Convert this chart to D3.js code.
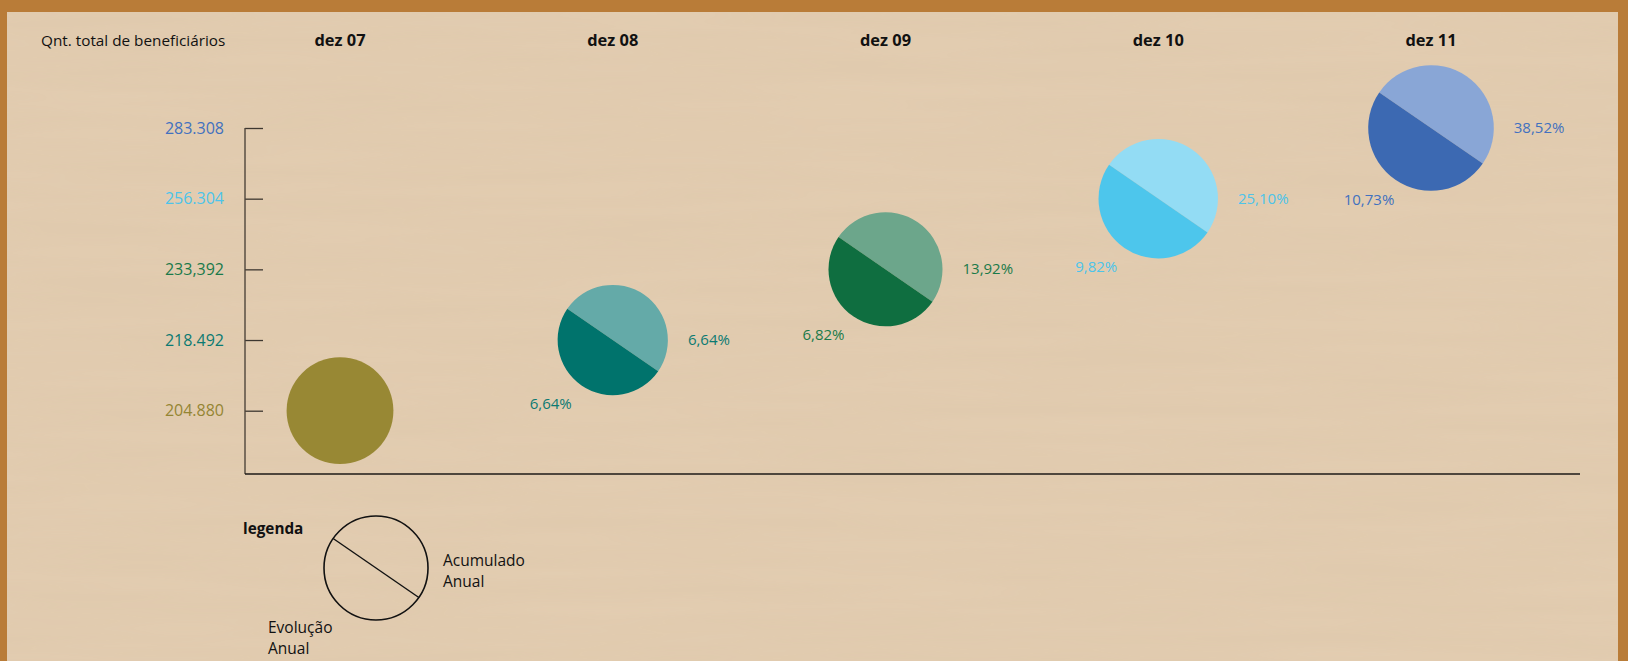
<!DOCTYPE html>
<html>
<head>
<meta charset="utf-8">
<script src="https://cdn.jsdelivr.net/npm/d3@7"></script>
<style>
  html, body { margin: 0; padding: 0; background: #b97c38; }
  svg { display: block; }
  text { font-family: "Open Sans", sans-serif; }
</style>
</head>
<body>
<svg width="1628" height="661"></svg>
<script>
// periods on the x axis
let periods = ["dez 07", "dez 08", "dez 09", "dez 10", "dez 11"];
// total beneficiaries at each period (also the y tick labels)
let totals = [204880, 218492, 233392, 256304, 283308];
let totalLabels = ["204.880", "218.492", "233,392", "256.304", "283.308"];
// accumulated growth (right label) and yearly growth (left label)
let accumulated = [null, "6,64%", "13,92%", "25,10%", "38,52%"];
let yearly = [null, "6,64%", "6,82%", "9,82%", "10,73%"];
// colours: dark half, light half, text
let darkColors = ["#988834", "#00736c", "#0f6e40", "#4dc6ec", "#3c69b2"];
let lightColors = ["#988834", "#64aaa8", "#6ca68b", "#93dcf4", "#89a6d6"];
let textColors = ["#948533", "#0b7a72", "#1a7a4a", "#4cc4ea", "#4271bf"];

let svg = d3.select("svg");
let width = +svg.attr("width");
let height = +svg.attr("height");

// faint paper grain
let defs = svg.append("defs");
let grain = defs.append("filter").attr("id", "grain").attr("x", 0).attr("y", 0).attr("width", 1).attr("height", 1);
grain.append("feTurbulence")
    .attr("type", "fractalNoise")
    .attr("baseFrequency", "0.004 0.06")
    .attr("numOctaves", 2)
    .attr("seed", 3);
grain.append("feColorMatrix")
    .attr("values", "0 0 0 0 0.55  0 0 0 0 0.42  0 0 0 0 0.28  0 0 0 0.12 0");
grain.append("feComposite").attr("in2", "SourceGraphic").attr("operator", "in");

// paper panel
svg.append("rect")
    .attr("x", 7).attr("y", 12)
    .attr("width", 1611).attr("height", height)
    .attr("fill", "#e3cdb1");
svg.append("rect")
    .attr("x", 7).attr("y", 12)
    .attr("width", 1611).attr("height", height)
    .attr("fill", "#e3cdb1")
    .attr("filter", "url(#grain)");

let x = d3.scalePoint().domain(periods).range([340, 1431]);
let y = d3.scalePoint().domain(totals).range([410.7, 128]);
let r = d3.scaleSqrt().domain([0, d3.max(totals)]).range([0, 62.8]);

let axisX = 245, axisBottom = 474;

// title
svg.append("text")
    .attr("x", 41).attr("y", 46)
    .attr("font-size", 15.3)
    .attr("fill", "#111")
    .text("Qnt. total de beneficiários");

// period headers
svg.append("g")
    .selectAll("text")
    .data(periods)
    .enter()
    .append("text")
    .attr("x", (d) => x(d))
    .attr("y", 46)
    .attr("text-anchor", "middle")
    .attr("font-size", 16.4)
    .attr("font-weight", "bold")
    .attr("fill", "#111")
    .text((d) => d);

// y axis with the totals as ticks
let yAxis = d3.axisRight(y).tickSize(18).tickFormat("");
let gy = svg.append("g")
    .attr("transform", `translate(${axisX},0)`)
    .call(yAxis);
gy.select(".domain").remove();
gy.selectAll(".tick line").attr("stroke", "#3d3730").attr("stroke-width", 1.3);

svg.append("path")
    .attr("d", `M${axisX},${y(totals[totals.length - 1])}V${axisBottom}`)
    .attr("fill", "none")
    .attr("stroke", "#4f463c")
    .attr("stroke-width", 1.4);
svg.append("path")
    .attr("d", `M${axisX},${axisBottom}H1580`)
    .attr("fill", "none")
    .attr("stroke", "#1d1a17")
    .attr("stroke-width", 1.6);

svg.append("g")
    .selectAll("text")
    .data(totals)
    .enter()
    .append("text")
    .attr("x", 224)
    .attr("y", (d) => y(d) + 5.5)
    .attr("text-anchor", "end")
    .attr("font-family", "Lato, sans-serif")
    .attr("font-size", 16)
    .attr("fill", (d, i) => textColors[i])
    .text((d, i) => totalLabels[i]);

// split circles
let angle = 34.5 * Math.PI / 180;
function halfPath(cx, cy, rad, sweepTop) {
    let dx = rad * Math.cos(angle), dy = rad * Math.sin(angle);
    let ax = cx - dx, ay = cy - dy, bx = cx + dx, by = cy + dy;
    return `M${ax},${ay}A${rad},${rad} 0 0 ${sweepTop ? 1 : 0} ${bx},${by}Z`;
}

let bubbles = svg.append("g")
    .selectAll("g")
    .data(periods)
    .enter()
    .append("g");

bubbles.each(function (p, i) {
    let g = d3.select(this);
    let cx = x(p), cy = y(totals[i]), rad = r(totals[i]);
    if (accumulated[i] === null) {
        g.append("circle").attr("cx", cx).attr("cy", cy).attr("r", rad).attr("fill", darkColors[i]);
        return;
    }
    g.append("path").attr("d", halfPath(cx, cy, rad, true)).attr("fill", lightColors[i]);
    g.append("path").attr("d", halfPath(cx, cy, rad, false)).attr("fill", darkColors[i]);

    g.append("text")
        .attr("x", cx + rad + 20)
        .attr("y", cy + 5)
        .attr("font-family", "Lato, sans-serif")
        .attr("font-size", 15)
        .attr("fill", textColors[i])
        .text(accumulated[i]);
    g.append("text")
        .attr("x", cx - 62)
        .attr("y", cy + rad + 14)
        .attr("text-anchor", "middle")
        .attr("font-family", "Lato, sans-serif")
        .attr("font-size", 15)
        .attr("fill", textColors[i])
        .text(yearly[i]);
});

// legend
let legend = svg.append("g");
legend.append("text")
    .attr("x", 243).attr("y", 534)
    .attr("font-size", 15.3).attr("font-weight", "bold").attr("fill", "#111")
    .text("legenda");
legend.append("circle")
    .attr("cx", 376).attr("cy", 568).attr("r", 52)
    .attr("fill", "none").attr("stroke", "#111").attr("stroke-width", 1.6);
legend.append("line")
    .attr("x1", 376 - 52 * Math.cos(angle)).attr("y1", 568 - 52 * Math.sin(angle))
    .attr("x2", 376 + 52 * Math.cos(angle)).attr("y2", 568 + 52 * Math.sin(angle))
    .attr("stroke", "#111").attr("stroke-width", 1.4);

let legendRight = legend.append("text")
    .attr("x", 443).attr("y", 566)
    .attr("font-size", 15.5).attr("fill", "#111");
legendRight.append("tspan").attr("x", 443).text("Acumulado");
legendRight.append("tspan").attr("x", 443).attr("dy", 20.5).text("Anual");

let legendLeft = legend.append("text")
    .attr("x", 268).attr("y", 633)
    .attr("font-size", 15.5).attr("fill", "#111");
legendLeft.append("tspan").attr("x", 268).text("Evolução");
legendLeft.append("tspan").attr("x", 268).attr("dy", 20.5).text("Anual");
</script>
</body>
</html>
